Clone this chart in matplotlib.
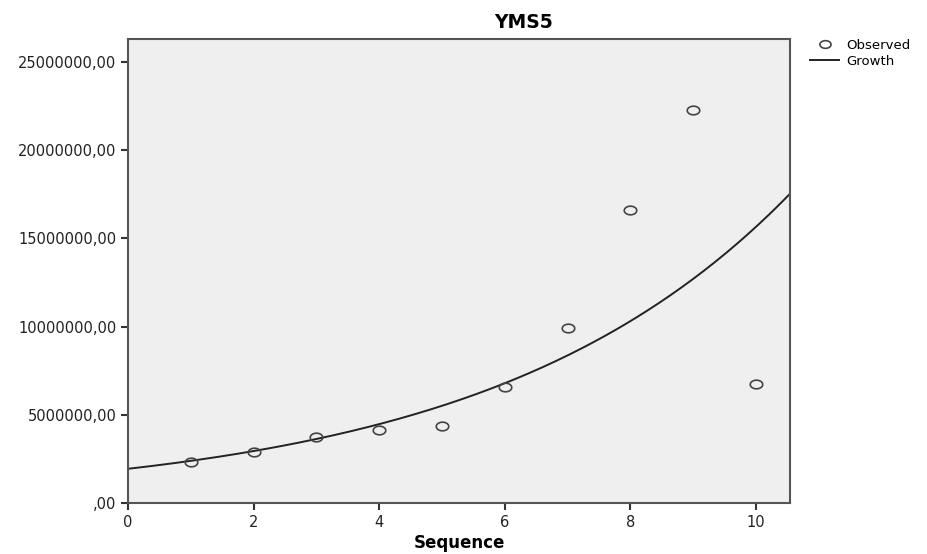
import numpy as np
import matplotlib
matplotlib.use("Agg")
import matplotlib.pyplot as plt
from matplotlib.path import Path
from matplotlib.lines import Line2D
from matplotlib.ticker import FuncFormatter

plt.rcParams['font.family'] = ['DejaVu Sans']

# Data
sequence = [1, 2, 3, 4, 5, 6, 7, 8, 9, 10]
observed = [2300000, 2890000, 3740000, 4140000, 4370000, 6580000, 9920000, 16600000, 22280000, 6750000]
title = "YMS5"
xlabel = "Sequence"
xticks = [0, 2, 4, 6, 8, 10]
yticks = [0, 5000000, 10000000, 15000000, 20000000, 25000000]

# Growth model fit: ln(y) = b0 + b1*t
b1, b0 = np.polyfit(np.array(sequence, float), np.log(observed), 1)
xmin, xmax = 0, 10.54
tt = np.linspace(xmin, xmax, 300)
growth = np.exp(b0 + b1 * tt)

fig = plt.figure(figsize=(9.28, 5.54), dpi=100)
ax = fig.add_axes([128/928, 1-503/554, (790-128)/928, (503-39)/554])
ax.set_facecolor('#efefef')

theta = np.linspace(0, 2*np.pi, 60)
ell = Path(np.column_stack([np.cos(theta)*1.45, np.sin(theta)]))

ax.plot(tt, growth, color='#222222', lw=1.4, zorder=2)
ax.plot(sequence, observed, linestyle='none', marker=ell, markersize=9,
        markerfacecolor='none', markeredgecolor='#444444', markeredgewidth=1.2, zorder=3)

ax.set_xlim(xmin, xmax)
ax.set_ylim(0, 26300000)
ax.set_xticks(xticks)
ax.set_yticks(yticks)
ax.yaxis.set_major_formatter(FuncFormatter(lambda v, p: (f"{int(v)},00" if v != 0 else ",00")))
ax.tick_params(direction='out', length=5, width=1.5, colors='#333333', labelsize=10.5,
               labelcolor='#222222')
for s in ax.spines.values():
    s.set_color('#555555')
    s.set_linewidth(1.5)

fig.text(524/928, 1-23/554, title, fontsize=13.5, fontweight='bold', ha='center', va='center')
fig.text(459/928, 1-548/554, xlabel, fontsize=12, fontweight='bold', ha='center', va='baseline')

handles = [Line2D([], [], linestyle='none', marker=ell, markersize=8, markerfacecolor='none',
                  markeredgecolor='#444444', markeredgewidth=1.2),
           Line2D([], [], color='#222222', lw=1.4)]
fig.legend(handles, ['Observed', 'Growth'], loc='upper left', bbox_to_anchor=(810/928, 1-39/554),
           frameon=False, fontsize=9.5, handlelength=2.2, handletextpad=0.55, labelspacing=0.2,
           borderaxespad=0, borderpad=0)

fig.savefig('out.png', dpi=100)
